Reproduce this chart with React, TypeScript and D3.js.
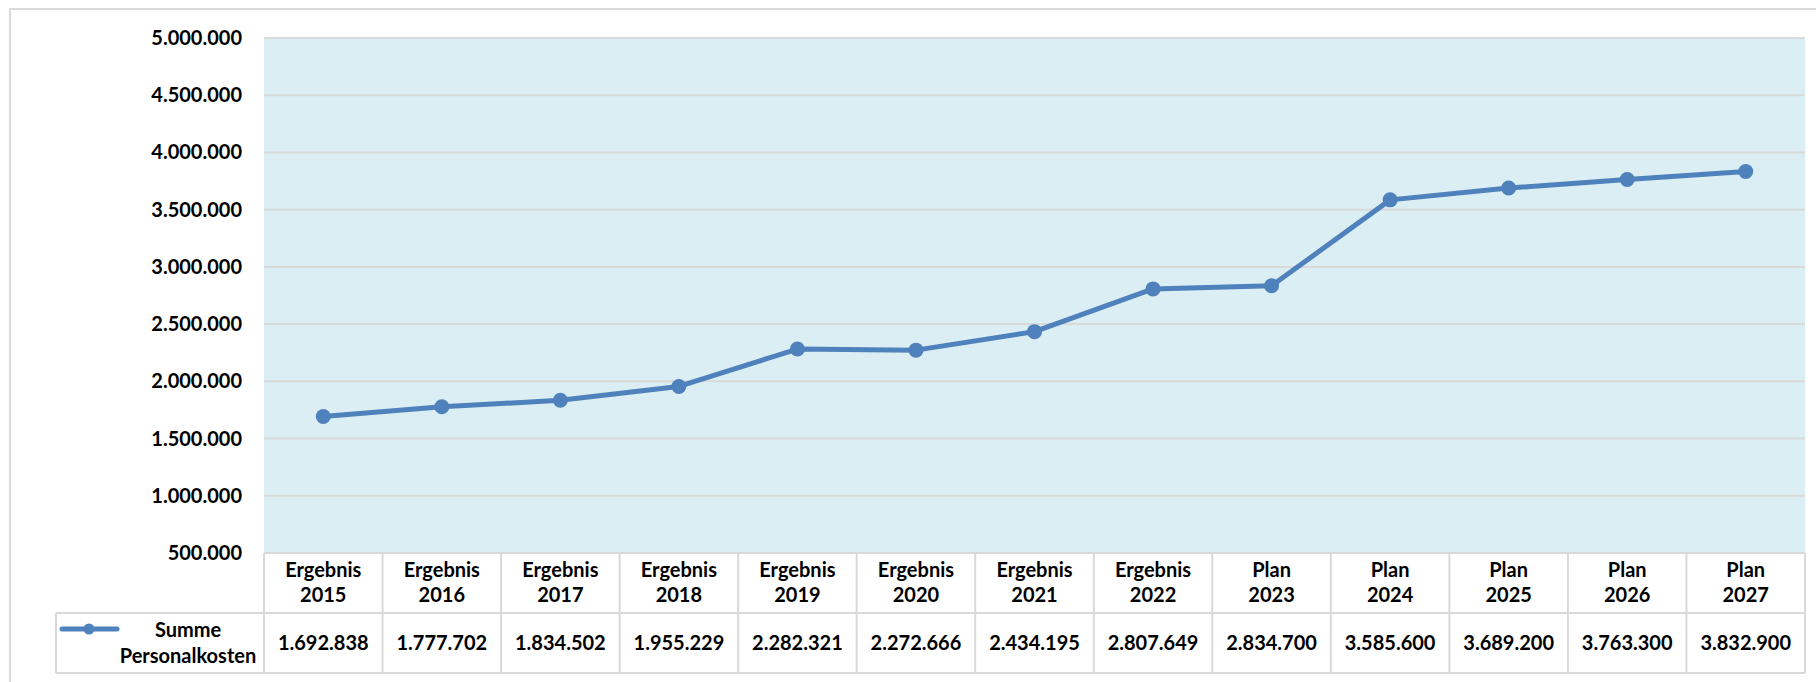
import React, { useEffect, useRef } from "react";
import * as d3 from "d3";

// chart data
const categoryKinds = ["Ergebnis", "Ergebnis", "Ergebnis", "Ergebnis", "Ergebnis", "Ergebnis", "Ergebnis", "Ergebnis", "Plan", "Plan", "Plan", "Plan", "Plan"];
const categoryYears = ["2015", "2016", "2017", "2018", "2019", "2020", "2021", "2022", "2023", "2024", "2025", "2026", "2027"];
const personalkosten = [1692838, 1777702, 1834502, 1955229, 2282321, 2272666, 2434195, 2807649, 2834700, 3585600, 3689200, 3763300, 3832900];
const yTicks = [500000, 1000000, 1500000, 2000000, 2500000, 3000000, 3500000, 4000000, 4500000, 5000000];
const seriesLabel = ["Summe", "Personalkosten"];

const WIDTH = 1816;
const HEIGHT = 682;
const FONT = "Lato, 'Open Sans', sans-serif";
const LINE_COLOR = "#4F81BD";
const GRID_COLOR = "#d9d9d9";

export default function App() {
  const ref = useRef<SVGSVGElement | null>(null);

  useEffect(() => {
    const svg = d3.select(ref.current);
    svg.selectAll("*").remove();

    const plot = { left: 264, right: 1805, top: 38, bottom: 553 };
    const headerBottom = 613;
    const tableBottom = 673;
    const legendLeft = 56;

    const de = d3.formatLocale({ decimal: ",", thousands: ".", grouping: [3], currency: ["", " €"] });
    const fmt = de.format(",d");

    const x = d3
      .scaleBand()
      .domain(categoryYears)
      .range([plot.left, plot.right]);

    const y = d3
      .scaleLinear()
      .domain([500000, 5000000])
      .range([plot.bottom, plot.top]);

    // outer frame
    svg
      .append("rect")
      .attr("x", 10)
      .attr("y", 9)
      .attr("width", WIDTH + 20)
      .attr("height", HEIGHT + 20)
      .attr("fill", "#ffffff")
      .attr("stroke", GRID_COLOR)
      .attr("stroke-width", 2);

    // plot background
    svg
      .append("rect")
      .attr("x", plot.left)
      .attr("y", plot.top)
      .attr("width", plot.right - plot.left)
      .attr("height", plot.bottom - plot.top)
      .attr("fill", "#DAEEF3");

    // gridlines
    svg
      .append("g")
      .selectAll("line")
      .data(yTicks)
      .enter()
      .append("line")
      .attr("x1", plot.left)
      .attr("x2", plot.right)
      .attr("y1", (d) => y(d))
      .attr("y2", (d) => y(d))
      .attr("stroke", GRID_COLOR)
      .attr("stroke-width", 2);

    // y axis labels
    svg
      .append("g")
      .selectAll("text")
      .data(yTicks)
      .enter()
      .append("text")
      .attr("x", 242)
      .attr("y", (d) => y(d))
      .attr("dy", "0.35em")
      .attr("text-anchor", "end")
      .style("font-family", FONT)
      .style("font-weight", "bold")
      .style("font-size", "20px")
      .attr("fill", "#000")
      .text((d) => fmt(d));

    // data table
    const table = svg.append("g");
    const bounds = categoryYears.map((c) => x(c) as number).concat([plot.right]);

    table
      .selectAll(".vline")
      .data(bounds)
      .enter()
      .append("line")
      .attr("class", "vline")
      .attr("x1", (d) => d)
      .attr("x2", (d) => d)
      .attr("y1", plot.bottom)
      .attr("y2", tableBottom)
      .attr("stroke", GRID_COLOR)
      .attr("stroke-width", 2);

    table
      .append("line")
      .attr("x1", legendLeft)
      .attr("x2", plot.right)
      .attr("y1", headerBottom)
      .attr("y2", headerBottom)
      .attr("stroke", GRID_COLOR)
      .attr("stroke-width", 2);

    table
      .append("line")
      .attr("x1", legendLeft)
      .attr("x2", plot.right)
      .attr("y1", tableBottom)
      .attr("y2", tableBottom)
      .attr("stroke", GRID_COLOR)
      .attr("stroke-width", 2);

    table
      .append("line")
      .attr("x1", legendLeft)
      .attr("x2", legendLeft)
      .attr("y1", headerBottom)
      .attr("y2", tableBottom)
      .attr("stroke", GRID_COLOR)
      .attr("stroke-width", 2);

    const header = table
      .selectAll(".head")
      .data(categoryYears)
      .enter()
      .append("text")
      .attr("class", "head")
      .attr("text-anchor", "middle")
      .style("font-family", FONT)
      .style("font-weight", "bold")
      .style("font-size", "20px")
      .attr("fill", "#000");

    header
      .append("tspan")
      .attr("x", (d) => (x(d) as number) + x.bandwidth() / 2)
      .attr("y", 577)
      .text((d, i) => categoryKinds[i]);

    header
      .append("tspan")
      .attr("x", (d) => (x(d) as number) + x.bandwidth() / 2)
      .attr("y", 602)
      .text((d) => d);

    table
      .selectAll(".val")
      .data(personalkosten)
      .enter()
      .append("text")
      .attr("class", "val")
      .attr("x", (d, i) => (x(categoryYears[i]) as number) + x.bandwidth() / 2)
      .attr("y", 650)
      .attr("text-anchor", "middle")
      .style("font-family", FONT)
      .style("font-weight", "bold")
      .style("font-size", "20px")
      .attr("fill", "#000")
      .text((d) => fmt(d));

    // legend key in the table
    table
      .append("line")
      .attr("x1", 62)
      .attr("x2", 117)
      .attr("y1", 629)
      .attr("y2", 629)
      .attr("stroke", LINE_COLOR)
      .attr("stroke-width", 5)
      .attr("stroke-linecap", "round");

    table
      .append("circle")
      .attr("cx", 89)
      .attr("cy", 629)
      .attr("r", 5.5)
      .attr("fill", LINE_COLOR);

    table
      .selectAll(".legend")
      .data(seriesLabel)
      .enter()
      .append("text")
      .attr("class", "legend")
      .attr("x", 188)
      .attr("y", (d, i) => 637 + i * 26)
      .attr("text-anchor", "middle")
      .style("font-family", FONT)
      .style("font-weight", "bold")
      .style("font-size", "20px")
      .attr("fill", "#000")
      .text((d) => d);

    // series line
    const line = d3
      .line<number>()
      .x((d, i) => (x(categoryYears[i]) as number) + x.bandwidth() / 2)
      .y((d) => y(d));

    svg
      .append("path")
      .datum(personalkosten)
      .attr("d", line)
      .attr("fill", "none")
      .attr("stroke", LINE_COLOR)
      .attr("stroke-width", 5)
      .attr("stroke-linejoin", "round");

    svg
      .append("g")
      .selectAll("circle")
      .data(personalkosten)
      .enter()
      .append("circle")
      .attr("cx", (d, i) => (x(categoryYears[i]) as number) + x.bandwidth() / 2)
      .attr("cy", (d) => y(d))
      .attr("r", 7.5)
      .attr("fill", LINE_COLOR);
  }, []);

  return (
    <div>
      <style>{"body{margin:0;}"}</style>
      <svg ref={ref} width={WIDTH} height={HEIGHT} style={{ display: "block" }}></svg>
    </div>
  );
}
